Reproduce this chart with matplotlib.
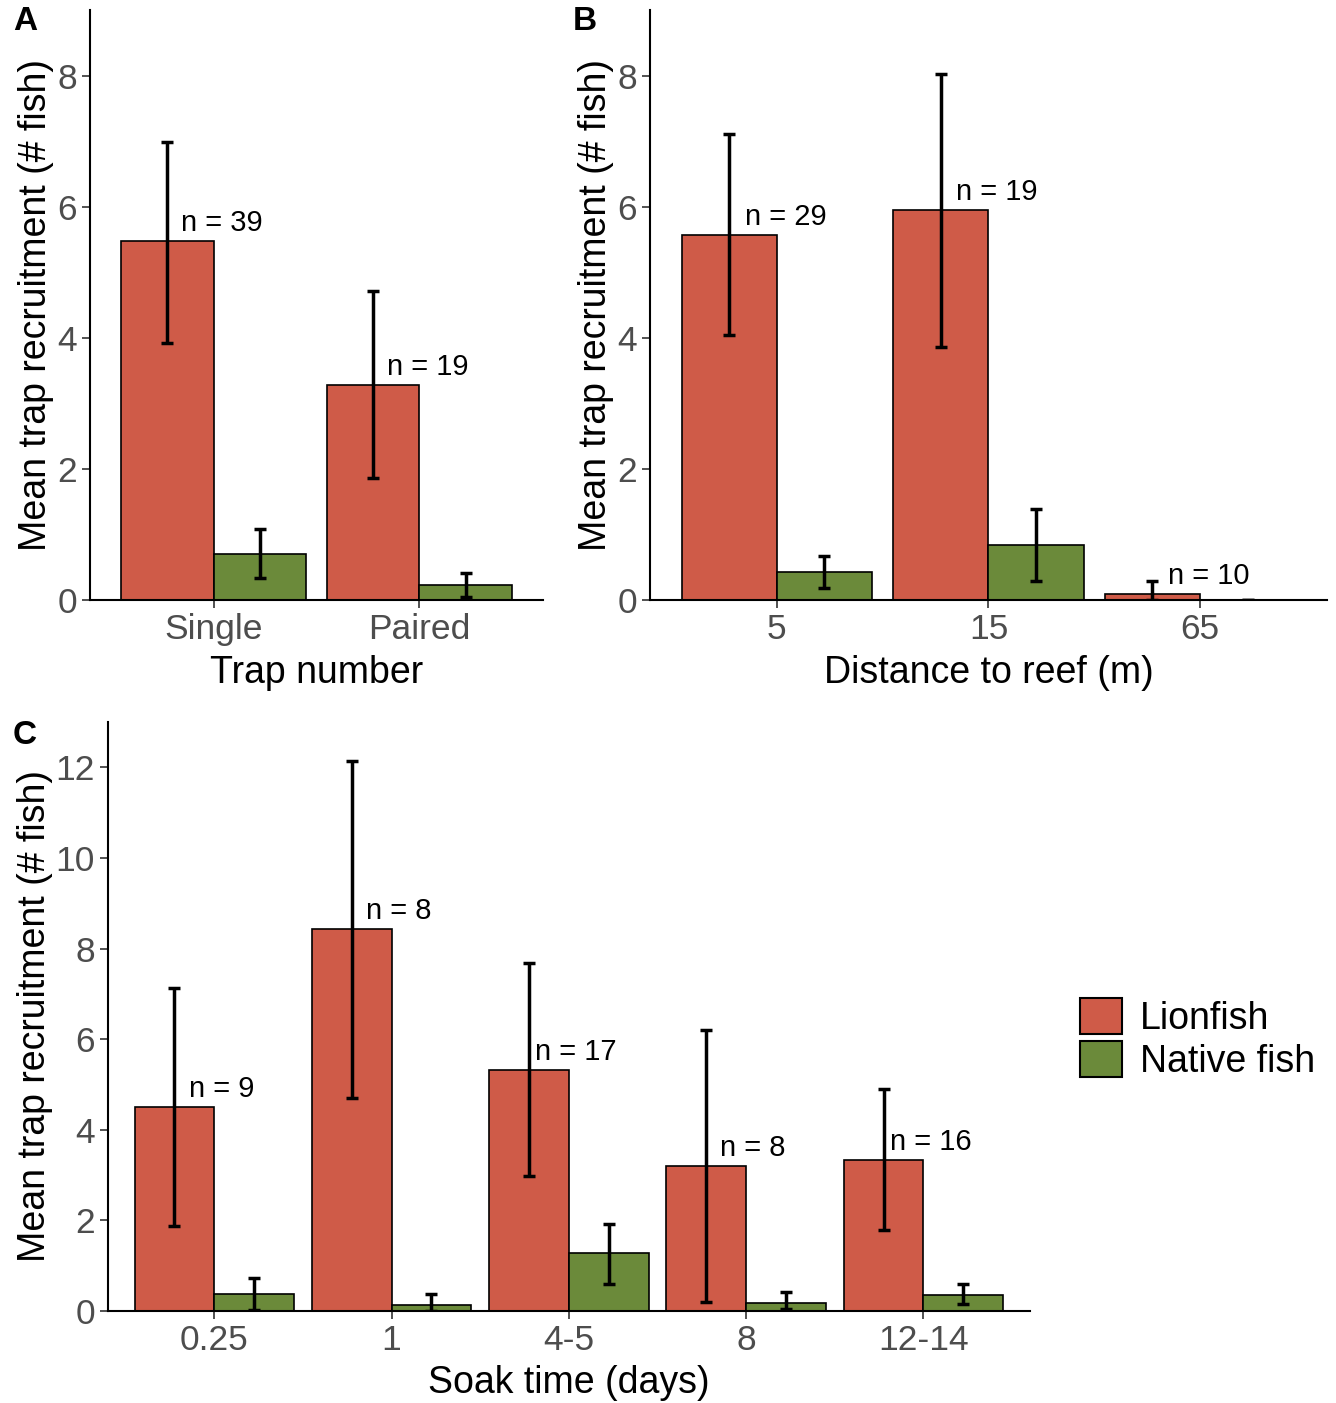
import numpy as np
import matplotlib.pyplot as plt
from matplotlib.patches import Patch

plt.rcParams['font.family'] = ['Liberation Sans', 'DejaVu Sans']

LION = '#CF5B48'
NATIVE = '#6B8A3A'

# Panel A: trap number
trap_cats = ['Single', 'Paired']
trap_lion = [5.47, 3.28]
trap_lion_lo = [3.92, 1.86]
trap_lion_hi = [6.99, 4.72]
trap_native = [0.70, 0.23]
trap_native_lo = [0.34, 0.05]
trap_native_hi = [1.08, 0.41]
trap_n = ['n = 39', 'n = 19']

# Panel B: distance to reef
dist_cats = ['5', '15', '65']
dist_lion = [5.57, 5.95, 0.09]
dist_lion_lo = [4.05, 3.86, 0.0]
dist_lion_hi = [7.11, 8.03, 0.29]
dist_native = [0.43, 0.84, 0.0]
dist_native_lo = [0.18, 0.29, 0.0]
dist_native_hi = [0.67, 1.39, 0.0]
dist_n = ['n = 29', 'n = 19', 'n = 10']

# Panel C: soak time
soak_cats = ['0.25', '1', '4-5', '8', '12-14']
soak_lion = [4.50, 8.43, 5.32, 3.20, 3.33]
soak_lion_lo = [1.88, 4.70, 2.98, 0.20, 1.79]
soak_lion_hi = [7.13, 12.13, 7.68, 6.20, 4.90]
soak_native = [0.37, 0.13, 1.28, 0.18, 0.35]
soak_native_lo = [0.02, 0.0, 0.60, 0.04, 0.15]
soak_native_hi = [0.73, 0.38, 1.92, 0.42, 0.60]
soak_n = ['n = 9', 'n = 8', 'n = 17', 'n = 8', 'n = 16']


def panel(ax, cats, lion, lion_lo, lion_hi, nat, nat_lo, nat_hi, nlab, ytop, yticks, xlabel):
    x = np.arange(len(cats))
    w = 0.45
    ax.bar(x - w / 2, lion, w, color=LION, edgecolor='black', linewidth=1.2, zorder=2)
    ax.bar(x + w / 2, nat, w, color=NATIVE, edgecolor='black', linewidth=1.2, zorder=2)
    lion = np.array(lion)
    nat = np.array(nat)
    ax.errorbar(x - w / 2, lion, yerr=[lion - np.array(lion_lo), np.array(lion_hi) - lion],
                fmt='none', ecolor='black', elinewidth=2.5, capsize=4.5, capthick=2.5, zorder=3)
    ax.errorbar(x + w / 2, nat, yerr=[nat - np.array(nat_lo), np.array(nat_hi) - nat],
                fmt='none', ecolor='black', elinewidth=2.5, capsize=4.5, capthick=2.5, zorder=3)
    for i, t in enumerate(nlab):
        ax.text(i + 0.04, lion[i] + 0.031 * ytop, t, ha='center', va='center', fontsize=21)
    ax.set_xlim(-0.6, len(cats) - 0.4)
    ax.set_ylim(0, ytop)
    ax.set_xticks(x)
    ax.set_xticklabels(cats)
    ax.set_yticks(yticks)
    ax.tick_params(labelsize=25.5, labelcolor='#4D4D4D', color='#333333', length=6, width=1.2)
    for s in ['top', 'right']:
        ax.spines[s].set_visible(False)
    for s in ['left', 'bottom']:
        ax.spines[s].set_linewidth(1.5)
    ax.set_xlabel(xlabel, fontsize=27, labelpad=6)
    ax.set_ylabel('Mean trap recruitment (# fish)', fontsize=27, labelpad=2)


fig = plt.figure(figsize=(13.36, 14.03), dpi=100)
axA = fig.add_axes([0.0674, 0.5723, 0.339, 0.4205])
axB = fig.add_axes([0.4865, 0.5723, 0.5067, 0.4205])
axC = fig.add_axes([0.0808, 0.0656, 0.690, 0.4198])

panel(axA, trap_cats, trap_lion, trap_lion_lo, trap_lion_hi, trap_native, trap_native_lo,
      trap_native_hi, trap_n, 9, [0, 2, 4, 6, 8], 'Trap number')
panel(axB, dist_cats, dist_lion, dist_lion_lo, dist_lion_hi, dist_native, dist_native_lo,
      dist_native_hi, dist_n, 9, [0, 2, 4, 6, 8], 'Distance to reef (m)')
panel(axC, soak_cats, soak_lion, soak_lion_lo, soak_lion_hi, soak_native, soak_native_lo,
      soak_native_hi, soak_n, 13, [0, 2, 4, 6, 8, 10, 12], 'Soak time (days)')

fig.text(25 / 1336, 1 - 22 / 1403, 'A', fontsize=24, fontweight='bold', ha='center', va='center')
fig.text(585 / 1336, 1 - 22 / 1403, 'B', fontsize=24, fontweight='bold', ha='center', va='center')
fig.text(25 / 1336, 1 - 735 / 1403, 'C', fontsize=24, fontweight='bold', ha='center', va='center')

handles = [Patch(facecolor=LION, edgecolor='black', linewidth=1.5, label='Lionfish'),
           Patch(facecolor=NATIVE, edgecolor='black', linewidth=1.5, label='Native fish')]
fig.legend(handles=handles, loc='upper left', bbox_to_anchor=(1054 / 1336, 1 - 972 / 1403),
           frameon=False, fontsize=27, handlelength=1.1, handleheight=1.1,
           labelspacing=0.1, handletextpad=0.5, borderpad=0.2)

fig.savefig('out.png', dpi=100)
